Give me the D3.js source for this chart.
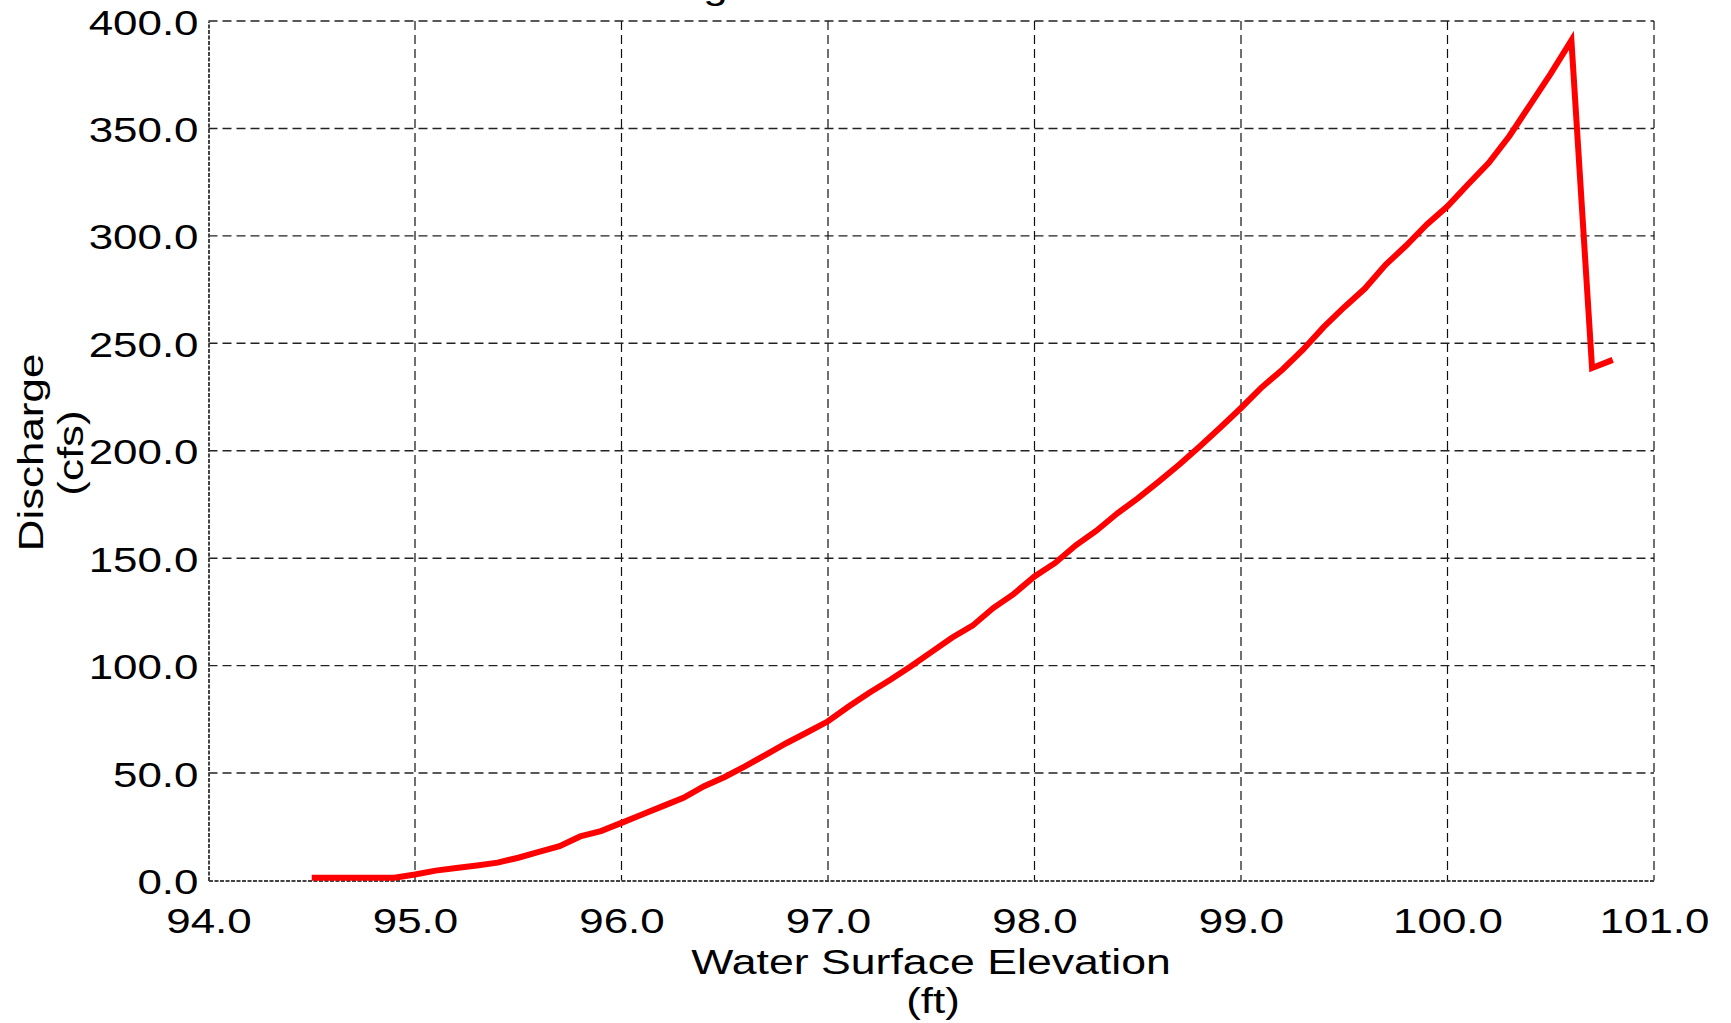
<!DOCTYPE html>
<html>
<head>
<meta charset="utf-8">
<script src="https://cdn.jsdelivr.net/npm/d3@7"></script>
<style>
  html, body { margin: 0; padding: 0; background: #fff; }
  svg { display: block; }
  text { font-family: "Liberation Sans", Arial, sans-serif; fill: #000; }
</style>
</head>
<body>
<svg id="chart" width="1731" height="1023"></svg>
<script>
// Stage–discharge rating: water surface elevation (ft) vs discharge (cfs)
const elevation = [
  94.5, 94.6, 94.7, 94.8, 94.9, 95.0, 95.1, 95.2, 95.3, 95.4,
  95.5, 95.6, 95.7, 95.8, 95.9, 96.0, 96.1, 96.2, 96.3, 96.4,
  96.5, 96.6, 96.7, 96.8, 96.9, 97.0, 97.1, 97.2, 97.3, 97.4,
  97.5, 97.6, 97.7, 97.8, 97.9, 98.0, 98.1, 98.2, 98.3, 98.4,
  98.5, 98.6, 98.7, 98.8, 98.9, 99.0, 99.1, 99.2, 99.3, 99.4,
  99.5, 99.6, 99.7, 99.8, 99.9, 100.0, 100.1, 100.2, 100.3, 100.4,
  100.5, 100.6, 100.7, 100.8
];
const discharge = [
  1.3, 1.3, 1.3, 1.3, 1.3, 2.8, 4.6, 5.8, 7.0, 8.3,
  10.6, 13.3, 16.0, 20.5, 23.0, 26.8, 30.7, 34.6, 38.5, 43.9,
  48.2, 53.2, 58.6, 64.0, 69.0, 74.1, 81.0, 87.4, 93.3, 99.6,
  106.3, 113.0, 118.6, 126.8, 133.4, 141.5, 147.8, 156.0, 162.8, 170.8,
  177.8, 185.5, 193.5, 202.0, 210.8, 219.9, 229.5, 237.7, 247.0, 257.5,
  266.8, 275.5, 286.5, 295.5, 305.3, 313.8, 324.0, 334.0, 346.5, 361.0,
  375.5, 391.0, 238.5, 242.3
];
const xTicks = [94, 95, 96, 97, 98, 99, 100, 101];
const yTicks = [0, 50, 100, 150, 200, 250, 300, 350, 400];

const titleText = "Rating Curve at Outlet";
const xTitle = ["Water Surface Elevation", "(ft)"];
const yTitle = ["Discharge", "(cfs)"];

const svg = d3.select("#chart");
const plotL = 208.5, plotR = 1654, plotT = 21, plotB = 880.5;
const stretch = 1.22;          // wide letterforms
const fontSize = 36;

const x = d3.scaleLinear().domain([94, 101]).range([plotL, plotR]);
const y = d3.scaleLinear().domain([0, 400]).range([plotB, plotT]);

// dashed grid
const grid = svg.append("g").attr("fill", "none");
grid.selectAll("line.v").data(xTicks.slice(1)).join("line")
  .attr("class", "v")
  .attr("x1", d => x(d)).attr("x2", d => x(d))
  .attr("y1", plotT).attr("y2", plotB)
  .attr("stroke", "#111").attr("stroke-width", 1.2)
  .attr("stroke-dasharray", "9,5");
grid.selectAll("line.h").data(yTicks.slice(1)).join("line")
  .attr("class", "h")
  .attr("x1", plotL).attr("x2", plotR)
  .attr("y1", d => y(d)).attr("y2", d => y(d))
  .attr("stroke", "#222").attr("stroke-width", 1.4)
  .attr("stroke-dasharray", "9,5");

// axes
const fmt = d3.format(".1f");
const yAxis = svg.append("g")
  .attr("transform", `translate(${plotL},0)`)
  .call(d3.axisLeft(y).tickValues(yTicks).tickFormat(fmt).tickSize(0).tickPadding(0));
const xAxis = svg.append("g")
  .attr("transform", `translate(0,${plotB})`)
  .call(d3.axisBottom(x).tickValues(xTicks).tickFormat(fmt).tickSize(0).tickPadding(0));

[xAxis, yAxis].forEach(a => {
  a.select(".domain").attr("stroke", "#444").attr("stroke-width", 2)
    .attr("stroke-dasharray", "4,1.5");
  a.selectAll("text").attr("font-size", fontSize)
    .attr("font-family", "'Liberation Sans', Arial, sans-serif")
    .attr("fill", "#000");
});
yAxis.selectAll(".tick text")
  .attr("x", 0).attr("dy", null).attr("y", 13)
  .attr("transform", `translate(-10,0) scale(${stretch},1)`);
xAxis.selectAll(".tick text")
  .attr("dy", null).attr("y", 52.5)
  .attr("transform", `scale(${stretch},1)`);

// rating curve
const pts = elevation.map((e, i) => [e, discharge[i]]);
const line = d3.line().x(d => x(d[0])).y(d => y(d[1]));
svg.append("path")
  .datum(pts)
  .attr("d", line)
  .attr("fill", "none")
  .attr("stroke", "#ff0000")
  .attr("stroke-width", 6)
  .attr("stroke-linejoin", "miter")
  .attr("stroke-miterlimit", 10);

// titles
function label(txt, tx, ty, rot, k) {
  svg.append("text")
    .attr("transform", `translate(${tx},${ty}) rotate(${rot}) scale(${k || stretch},1)`)
    .attr("text-anchor", "middle")
    .attr("font-size", fontSize)
    .text(txt);
}
label(titleText, 818, -1, 0);
label(xTitle[0], 931, 973.5, 0, 1.24);
label(xTitle[1], 933, 1013, 0);
label(yTitle[0], 43, 452.5, -90);
label(yTitle[1], 83, 453, -90);
</script>
</body>
</html>
